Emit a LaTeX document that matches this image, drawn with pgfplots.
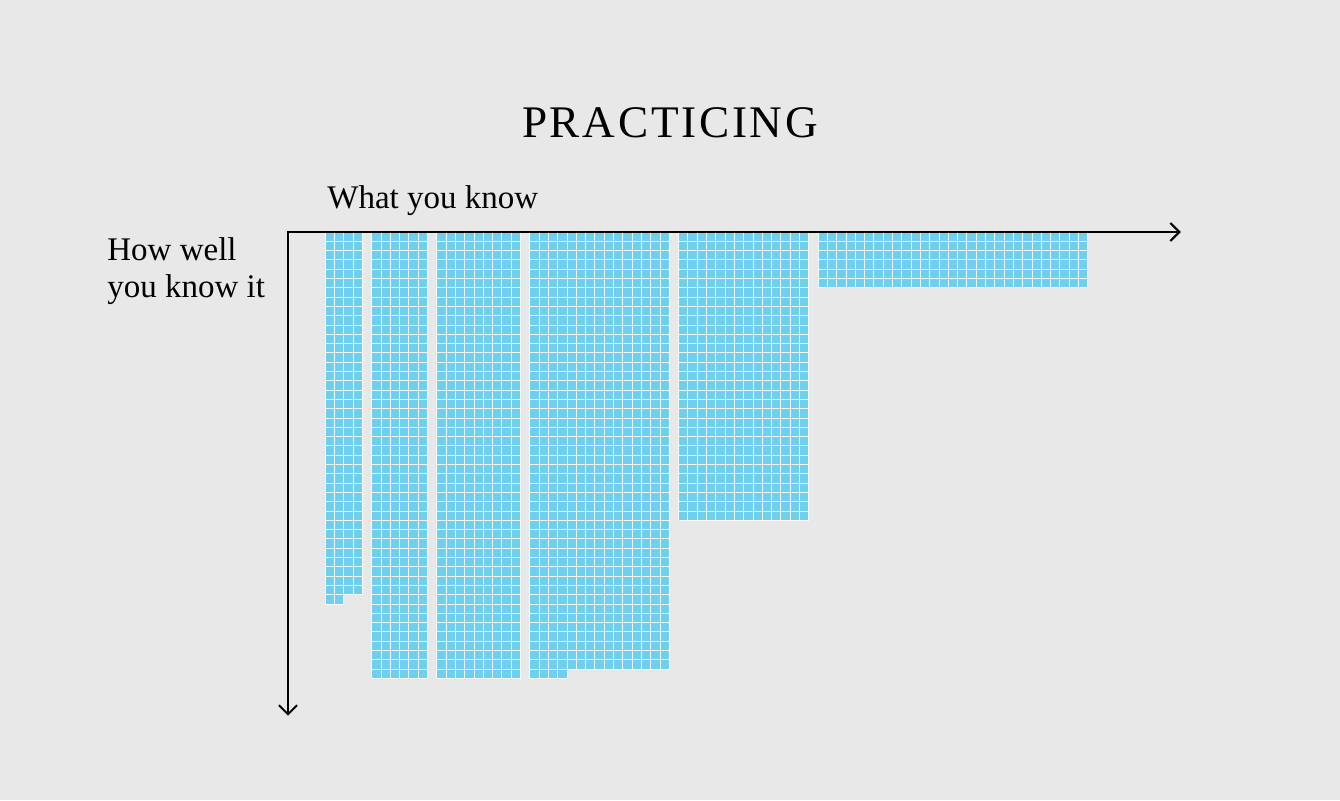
\documentclass[border=0pt]{standalone}
\usepackage{pgfplots}
\pgfplotsset{compat=1.18}
\usepackage{pgfplotstable}
\usepackage{fontspec}
\setmainfont{Liberation Serif}
\usetikzlibrary{arrows.meta}
\definecolor{bg}{RGB}{232,232,232}
\definecolor{cell}{RGB}{110,207,238}

% one row per block of cells: first column, number of columns,
% number of full rows, cells in the last (partial) row
\pgfplotstableread{
start ncols rows extra
0  4  39 2
5  6  48 0
12 9  48 0
22 15 47 4
38 14 31 0
53 29 6  0
}\blocks

\def\gridpts{}
\def\fillpts{}
\newcommand\addblock[4]{%
  \pgfmathtruncatemacro\xe{#1+#2}%
  \pgfmathtruncatemacro\xp{#1+#4}%
  \pgfmathtruncatemacro\rp{#3+1}%
  \foreach \i in {0,...,#2}{%
    \pgfmathtruncatemacro\xx{#1+\i}%
    \pgfmathtruncatemacro\yy{((#4>0) && (\i<=#4)) ? #3+1 : #3}%
    \xdef\gridpts{\gridpts (\xx,0) (\xx,\yy) (\xx,nan)}%
  }%
  \foreach \j in {0,...,#3}{%
    \xdef\gridpts{\gridpts (#1,\j) (\xe,\j) (\xe,nan)}%
  }%
  \ifnum#4>0
    \xdef\gridpts{\gridpts (#1,\rp) (\xp,\rp) (\xp,nan)}%
    \xdef\fillpts{\fillpts (#1,0) (\xe,0) (\xe,#3) (\xp,#3) (\xp,\rp) (#1,\rp) (#1,0) (#1,nan)}%
  \else
    \xdef\fillpts{\fillpts (#1,0) (\xe,0) (\xe,#3) (#1,#3) (#1,0) (#1,nan)}%
  \fi
}
\pgfplotstablegetrowsof{\blocks}
\pgfmathtruncatemacro\nb{\pgfplotsretval-1}
\foreach \k in {0,...,\nb}{%
  \pgfplotstablegetelem{\k}{start}\of\blocks \edef\bs{\pgfplotsretval}%
  \pgfplotstablegetelem{\k}{ncols}\of\blocks \edef\bc{\pgfplotsretval}%
  \pgfplotstablegetelem{\k}{rows}\of\blocks \edef\br{\pgfplotsretval}%
  \pgfplotstablegetelem{\k}{extra}\of\blocks \edef\be{\pgfplotsretval}%
  \addblock{\bs}{\bc}{\br}{\be}%
}

\def\plotfill#1{\addplot[fill=cell, draw=none, unbounded coords=jump] coordinates {#1};}
\def\plotgrid#1{\addplot[white, opacity=0.9, line width=0.5pt, unbounded coords=jump] coordinates {#1};}

\begin{document}
\begin{tikzpicture}
\fill[bg] (0,0) rectangle (670pt,400pt);
\begin{axis}[
  hide axis, clip=false,
  x=4.65pt, y=4.65pt, y dir=reverse,
  xmin=-4, xmax=92, ymin=0, ymax=52,
  at={(144pt,284pt)}, anchor=north west,
]
\expandafter\plotfill\expandafter{\fillpts}
\expandafter\plotgrid\expandafter{\gridpts}
\draw[line width=1pt, {Straight Barb[length=4.5pt,width=9pt]}-{Straight Barb[length=4.5pt,width=9pt]}]
  (axis cs:-4,52) -- (axis cs:-4,0) -- (axis cs:92,0);
\end{axis}
\node[anchor=base, inner sep=0pt, font=\fontsize{22.6}{27}\selectfont\addfontfeatures{LetterSpace=6}] at (335pt,331pt) {PRACTICING};
\node[anchor=base west, inner sep=0pt, font=\fontsize{16.5}{20}\selectfont] at (163.5pt,296pt) {What you know};
\node[anchor=base west, inner sep=0pt, font=\fontsize{16.5}{20}\selectfont] at (53.5pt,270pt) {How well};
\node[anchor=base west, inner sep=0pt, font=\fontsize{16.5}{20}\selectfont] at (53.5pt,251.25pt) {you know it};
\pgfresetboundingbox
\useasboundingbox (0,0) rectangle (670pt,400pt);
\end{tikzpicture}
\end{document}
